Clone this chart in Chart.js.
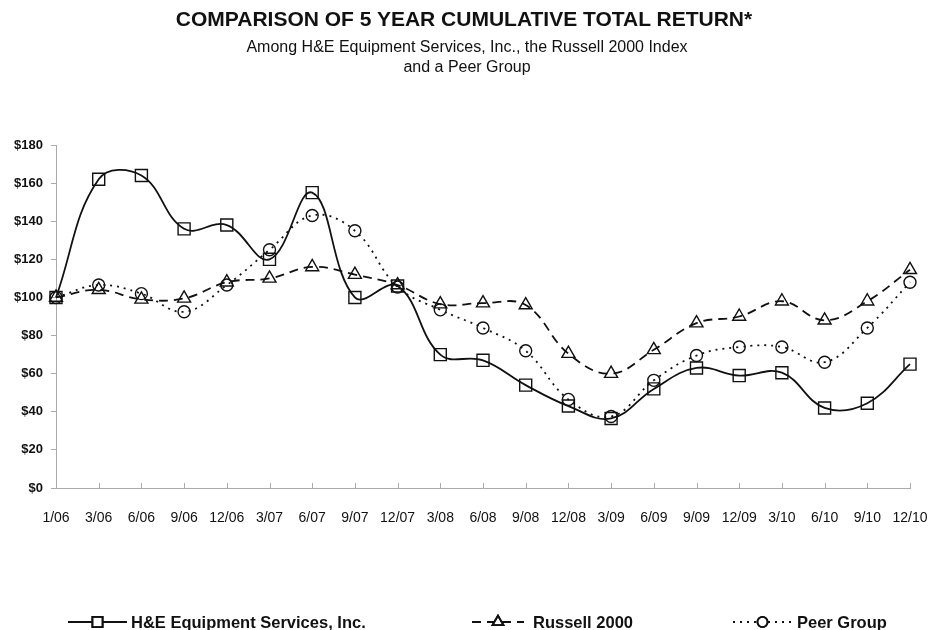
<!DOCTYPE html>
<html lang="en">
<head>
<meta charset="UTF-8">
<title>5 Year Cumulative Total Return</title>
<script src="https://cdn.jsdelivr.net/npm/chart.js"></script>
<style>
    body { margin: 0; background: #fff; font-family: "Liberation Sans", Arial, sans-serif; }
    .wrap { position: relative; width: 928px; height: 630px; overflow: hidden; }
    #grafico { position: absolute; left: 0; top: 0; }
    .titulo { position: absolute; left: 0; width: 928px; top: 7px; text-align: center; font-weight: bold; font-size: 21px; color: #111; }
    .sub { position: absolute; left: 0; width: 934px; text-align: center; font-size: 16px; line-height: 18px; color: #111; }
    .legenda { position: absolute; top: 611px; height: 22px; font-size: 16.5px; font-weight: bold; color: #111; display: flex; align-items: center; }
</style>
</head>
<body>
<div class="wrap">
    <canvas id="grafico" width="928" height="630"></canvas>
    <div class="titulo">COMPARISON OF 5 YEAR CUMULATIVE TOTAL RETURN*</div>
    <div class="sub" style="top:38px">Among H&amp;E Equipment Services, Inc., the Russell 2000 Index</div>
    <div class="sub" style="top:58px">and a Peer Group</div>

    <div class="legenda" style="left:68px"><canvas id="lg0" width="59" height="20" style="margin-right:4px"></canvas>H&amp;E Equipment Services, Inc.</div>
    <div class="legenda" style="left:472px"><canvas id="lg1" width="52" height="20" style="margin-right:9px"></canvas>Russell 2000</div>
    <div class="legenda" style="left:733px"><canvas id="lg2" width="59" height="20" style="margin-right:5px"></canvas>Peer Group</div>
</div>

<script>
    // dados
    var periodos = ["1/06", "3/06", "6/06", "9/06", "12/06", "3/07", "6/07", "9/07", "12/07", "3/08", "6/08",
        "9/08", "12/08", "3/09", "6/09", "9/09", "12/09", "3/10", "6/10", "9/10", "12/10"];
    var heValores = [100, 162, 164, 136, 138, 120, 155, 100, 106, 70, 67, 54, 43, 36.5, 52, 63, 59, 60.5, 42, 44.5, 65];
    var russellValores = [100, 104, 99, 99.5, 108, 110, 116, 112, 106.5, 96.5, 97, 96, 70.5, 60, 72.5, 86.5, 90, 98, 88, 98, 114.5];
    var peerValores = [100, 106.5, 102, 92.5, 106.5, 125, 143, 135, 105.5, 93.5, 84, 72, 46.5, 37.5, 56.5, 69.5, 74, 74, 66, 84, 108];
    var ticksY = [0, 20, 40, 60, 80, 100, 120, 140, 160, 180];

    var nomes = ["H&E Equipment Services, Inc.", "Russell 2000", "Peer Group"];
    var estilos = ["rect", "triangle", "circle"];
    var raios = [8.5, 7.5, 6];
    var tracos = [[], [9, 6], [2, 5]];

    // marcas de escala do eixo x para dentro
    var marcasX = {
        id: "marcasX",
        afterDraw: function (chart) {
            var ctx = chart.ctx;
            var x = chart.scales.x;
            var base = chart.chartArea.bottom;
            ctx.save();
            ctx.strokeStyle = "#aaa";
            ctx.lineWidth = 1;
            for (var i = 1; i < periodos.length; i++) {
                var px = Math.round(x.getPixelForTick(i)) + 0.5;
                ctx.beginPath();
                ctx.moveTo(px, base);
                ctx.lineTo(px, base - 5);
                ctx.stroke();
            }
            ctx.restore();
        }
    };

    var series = [heValores, russellValores, peerValores];
    var datasets = [];
    for (var i = 0; i < series.length; i++) {
        datasets.push({
            label: nomes[i],
            data: series[i],
            borderColor: "#111",
            backgroundColor: "rgba(0,0,0,0)",
            borderWidth: 1.8,
            borderDash: tracos[i],
            pointStyle: estilos[i],
            pointRadius: raios[i],
            pointBorderWidth: 1.4,
            pointBorderColor: "#111",
            pointBackgroundColor: "rgba(0,0,0,0)",
            tension: 0.4,
            fill: false
        });
    }

    new Chart(document.getElementById("grafico"), {
        type: "line",
        data: { labels: periodos, datasets: datasets },
        plugins: [marcasX],
        options: {
            responsive: false,
            animation: false,
            layout: { padding: { left: 0, top: 145, right: 18, bottom: 0 } },
            plugins: { legend: { display: false }, tooltip: { enabled: false } },
            scales: {
                x: {
                    afterFit: function (s) { s.height = 142; s.paddingRight = 0; s.paddingLeft = 0; },
                    grid: { display: false },
                    border: { color: "#aaa", width: 1 },
                    ticks: { color: "#111", padding: 14, maxRotation: 0, autoSkip: false, font: { family: "Liberation Sans", size: 14 } }
                },
                y: {
                    min: 0,
                    max: 180,
                    afterFit: function (s) { s.width = 56; s.paddingTop = 0; s.paddingBottom = 0; },
                    afterBuildTicks: function (s) { s.ticks = ticksY.map(function (v) { return { value: v }; }); },
                    grid: { drawOnChartArea: false, drawTicks: true, tickLength: 5, color: "#aaa" },
                    border: { color: "#aaa", width: 1 },
                    ticks: {
                        color: "#111", padding: 8,
                        font: { family: "Liberation Sans", size: 13, weight: "bold" },
                        callback: function (v) { return "$" + v; }
                    }
                }
            }
        }
    });

    // amostras da legenda
    function amostra(id, idx) {
        var cv = document.getElementById(id);
        var c = cv.getContext("2d");
        var w = cv.width;
        c.strokeStyle = "#111";
        c.lineWidth = 1.8;
        c.setLineDash(tracos[idx]);
        c.beginPath();
        c.moveTo(0, 10);
        c.lineTo(w, 10);
        c.stroke();
        c.setLineDash([]);
        c.fillStyle = "#fff";
        Chart.helpers.drawPoint(c, { pointStyle: estilos[idx], radius: raios[idx] * 0.85, borderWidth: 1.4 }, w / 2, 10);
        c.stroke();
    }
    amostra("lg0", 0);
    amostra("lg1", 1);
    amostra("lg2", 2);
</script>
</body>
</html>
